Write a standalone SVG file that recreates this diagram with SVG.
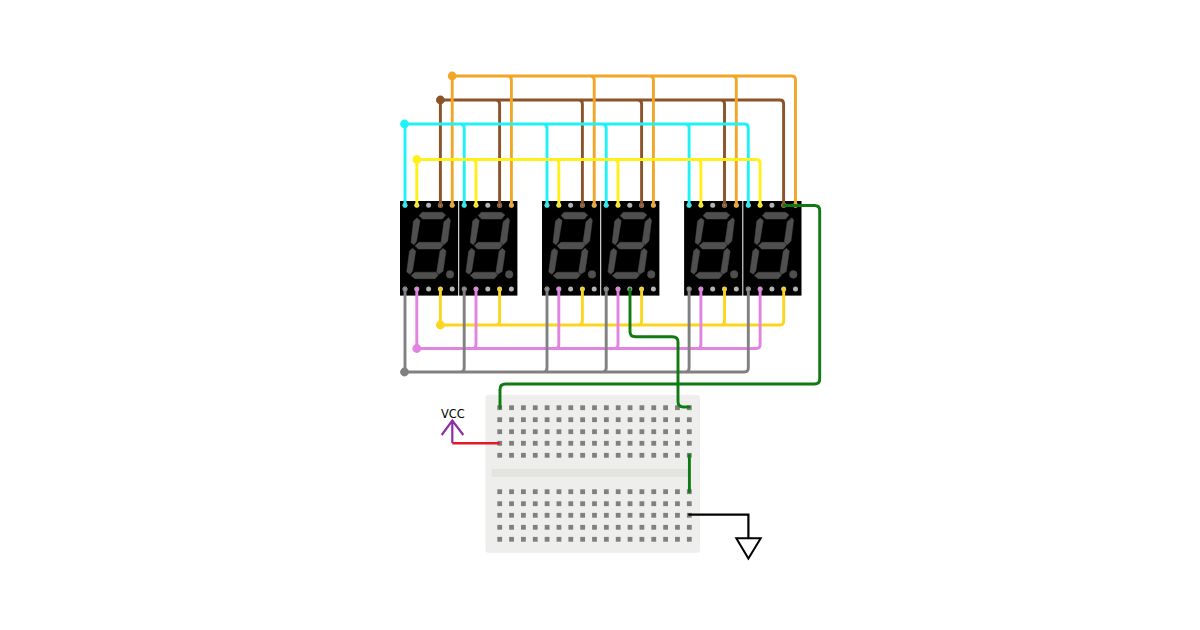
<svg xmlns="http://www.w3.org/2000/svg" width="1200" height="630" viewBox="0 0 1200 630">
<style>
.w{fill:none;stroke-width:2.9;stroke-linejoin:round;stroke-linecap:round}
.orange{stroke:#f2a628}.brown{stroke:#8c5228}.cyan{stroke:#1ff2f7}.yellow{stroke:#fff01a}
.gold{stroke:#fbd620}.violet{stroke:#e283e2}.grey{stroke:#808080}.green{stroke:#0f7a12}
.do{fill:#f2a628}.db{fill:#8c5228}.dc{fill:#1ff2f7}.dy{fill:#fff01a}.dg{fill:#fbd620}.dv{fill:#e283e2}.dk{fill:#808080}
.seg{fill:#4f4f4f;stroke:#4f4f4f;stroke-width:.5;stroke-linejoin:round}.pin{fill:#b3b3b3}.hole{fill:#808080}
</style>
<defs>
<g id="seven">
<rect width="58.2" height="94.6" fill="#000"/>
<path class="seg" d="M19 14.7L22 11.3H42.3L45.7 14L42.3 18H22.7Z"/>
<path class="seg" d="M15 44.7L19 41.3H40.7L43.3 44L40 48H18.3Z"/>
<path class="seg" d="M11 74.5L15 71.2H36L38.3 74L35 77.7H15Z"/>
<path class="seg" d="M17 17L20 19.5L16.5 40.5L14 43.8L11 41.5L13.5 20Z"/>
<path class="seg" d="M48.7 16.7L50.3 19.3L47.7 40L44 43.8L41 41.3L44 20.7Z"/>
<path class="seg" d="M12.5 47.3L15.7 50L12.5 70L10 73.3L6.7 71L9.5 50Z"/>
<path class="seg" d="M43 47.3L46 50L43 70.5L38.5 73.3L36.7 71L40 50Z"/>
<circle class="seg" cx="50" cy="73.4" r="3.8"/>
<g class="pin">
<circle cx="5" cy="4.3" r="2.5"/><circle cx="16.8" cy="4.3" r="2.5"/><circle cx="28.6" cy="4.3" r="2.5"/><circle cx="40.4" cy="4.3" r="2.5"/><circle cx="52.2" cy="4.3" r="2.5"/>
<circle cx="5" cy="88" r="2.5"/><circle cx="16.8" cy="88" r="2.5"/><circle cx="28.6" cy="88" r="2.5"/><circle cx="40.4" cy="88" r="2.5"/><circle cx="52.2" cy="88" r="2.5"/>
</g>
</g>
<g id="holes" class="hole">
<rect x="497.3" y="-2.4" width="4.8" height="4.8"/><rect x="509.15" y="-2.4" width="4.8" height="4.8"/><rect x="521" y="-2.4" width="4.8" height="4.8"/><rect x="532.85" y="-2.4" width="4.8" height="4.8"/><rect x="544.7" y="-2.4" width="4.8" height="4.8"/><rect x="556.55" y="-2.4" width="4.8" height="4.8"/><rect x="568.4" y="-2.4" width="4.8" height="4.8"/><rect x="580.25" y="-2.4" width="4.8" height="4.8"/><rect x="592.1" y="-2.4" width="4.8" height="4.8"/><rect x="603.95" y="-2.4" width="4.8" height="4.8"/><rect x="615.8" y="-2.4" width="4.8" height="4.8"/><rect x="627.65" y="-2.4" width="4.8" height="4.8"/><rect x="639.5" y="-2.4" width="4.8" height="4.8"/><rect x="651.35" y="-2.4" width="4.8" height="4.8"/><rect x="663.2" y="-2.4" width="4.8" height="4.8"/><rect x="675.05" y="-2.4" width="4.8" height="4.8"/><rect x="686.9" y="-2.4" width="4.8" height="4.8"/>
</g>
<g id="top-ends">
<circle class="dc" cx="5" cy="4.3" r="2.3"/><circle class="dy" cx="16.8" cy="4.3" r="2.3"/><circle class="db" cx="40.4" cy="4.3" r="2.3"/><circle class="do" cx="52.2" cy="4.3" r="2.3"/>
<circle class="pin" cx="5" cy="4.3" r="1" opacity=".5"/><circle class="pin" cx="16.8" cy="4.3" r="1" opacity=".5"/><circle class="pin" cx="40.4" cy="4.3" r="1" opacity=".5"/><circle class="pin" cx="52.2" cy="4.3" r="1" opacity=".5"/>
</g>
<g id="bottom-ends">
<circle class="dk" cx="5" cy="88" r="2.3"/><circle class="dv" cx="16.8" cy="88" r="2.3"/><circle class="dg" cx="40.4" cy="88" r="2.3"/>
<circle class="pin" cx="5" cy="88" r="1" opacity=".5"/><circle class="pin" cx="16.8" cy="88" r="1" opacity=".5"/><circle class="pin" cx="40.4" cy="88" r="1" opacity=".5"/>
</g>
</defs>
<rect width="1200" height="630" fill="#fff"/>
<g id="breadboard">
<rect x="485.5" y="395" width="214.5" height="157.8" rx="2.5" fill="#eeeeec"/>
<rect x="491.5" y="469" width="197" height="8" rx="1" fill="#e3e3e0"/>
<use href="#holes" y="407.7"/><use href="#holes" y="419.7"/><use href="#holes" y="431.7"/><use href="#holes" y="443.3"/><use href="#holes" y="455.3"/>
<use href="#holes" y="491.7"/><use href="#holes" y="503.7"/><use href="#holes" y="515.3"/><use href="#holes" y="527.3"/><use href="#holes" y="539.3"/>
</g>
<g id="display1"><use href="#seven" x="400" y="201"/></g>
<g id="display2"><use href="#seven" x="459.2" y="201"/></g>
<g id="display3"><use href="#seven" x="542" y="201"/></g>
<g id="display4"><use href="#seven" x="601.2" y="201"/></g>
<g id="display5"><use href="#seven" x="684.1" y="201"/></g>
<g id="display6"><use href="#seven" x="743.3" y="201"/></g>
<g id="vcc">
<text x="441" y="418.2" font-family="'DejaVu Sans',sans-serif" font-size="11.4" fill="#000">VCC</text>
<path d="M441.7 435L452.3 420.7L463.3 435M452.3 420.7V443" fill="none" stroke="#8e2fa6" stroke-width="2.2"/>
</g>
<g id="gnd">
<path d="M736.3 538.3H760.7L748.4 558.6Z" fill="#fff" stroke="#000" stroke-width="2"/>
</g>
<g id="connectors">
<path class="w brown" d="M440.4 205.3V100H780Q783.6 100 783.6 104V205.3M496 100Q499.6 100 499.6 104V205.3M579 100Q582.4 100 582.4 104V205.3M638 100Q641.6 100 641.6 104V205.3M721 100Q724.5 100 724.5 104V205.3"/>
<path class="w orange" d="M452.2 205.3V76H791.5Q795.5 76 795.5 80V205.3M508 76Q511.4 76 511.4 80V205.3M590.5 76Q594.2 76 594.2 80V205.3M650 76Q653.4 76 653.4 80V205.3M733 76Q736.3 76 736.3 80V205.3"/>
<path class="w cyan" d="M405 205.3V124H744.5Q748.3 124 748.3 128V205.3M460.5 124Q464.2 124 464.2 128V205.3M543.5 124Q547 124 547 128V205.3M602.5 124Q606.2 124 606.2 128V205.3M685.5 124Q689.1 124 689.1 128V205.3"/>
<path class="w yellow" d="M416.8 205.3V159.5H756.5Q760.1 159.5 760.1 163.5V205.3M472.5 159.5Q476 159.5 476 163.5V205.3M555.5 159.5Q558.8 159.5 558.8 163.5V205.3M614.5 159.5Q618 159.5 618 163.5V205.3M697.5 159.5Q700.9 159.5 700.9 163.5V205.3"/>
<path class="w gold" d="M440.4 289V325H780Q783.7 325 783.7 321V289M496 325Q499.6 325 499.6 321V289M579 325Q582.4 325 582.4 321V289M638 325Q641.6 325 641.6 321V289M721 325Q724.5 325 724.5 321V289"/>
<path class="w violet" d="M416.8 289V348.5H756.5Q760.1 348.5 760.1 344.5V289M472.5 348.5Q476 348.5 476 344.5V289M555.5 348.5Q558.8 348.5 558.8 344.5V289M614.5 348.5Q618 348.5 618 344.5V289M697.5 348.5Q700.9 348.5 700.9 344.5V289"/>
<path class="w grey" d="M405 289V372H744.5Q748.3 372 748.3 368V289M460.5 372Q464.2 372 464.2 368V289M543.5 372Q547 372 547 368V289M602.5 372Q606.2 372 606.2 368V289M685.5 372Q689.1 372 689.1 368V289"/>
<use href="#top-ends" x="400" y="201"/><use href="#top-ends" x="459.2" y="201"/><use href="#top-ends" x="542" y="201"/><use href="#top-ends" x="601.2" y="201"/><use href="#top-ends" x="684.1" y="201"/><use href="#top-ends" x="743.3" y="201"/>
<use href="#bottom-ends" x="400" y="201"/><use href="#bottom-ends" x="459.2" y="201"/><use href="#bottom-ends" x="542" y="201"/><use href="#bottom-ends" x="601.2" y="201"/><use href="#bottom-ends" x="684.1" y="201"/><use href="#bottom-ends" x="743.3" y="201"/>
<circle class="do" cx="452.2" cy="76" r="4.4"/><circle class="db" cx="440.4" cy="100" r="4.4"/><circle class="dc" cx="404.5" cy="124" r="4.4"/><circle class="dy" cx="416.8" cy="159.5" r="4.4"/>
<circle class="dg" cx="440.4" cy="325" r="4.4"/><circle class="dv" cx="416.8" cy="348.5" r="4.4"/><circle class="dk" cx="404.5" cy="372" r="4.4"/>
<path class="w green" d="M630 289V331.5Q630 336.8 635.5 336.8H672.5Q678 336.8 678 342V401.5Q678 407 683.5 407H689.3"/>
<path class="w green" d="M784 205.5H814.5Q819.7 205.5 819.7 210.5V379Q819.7 384 814.5 384H505.5Q500 384 500 389.5V407.7"/>
<path class="w green" d="M689.4 455.3V491.7"/>
<path d="M452.3 443.2H499.7" fill="none" stroke="#e01a2a" stroke-width="2.4"/>
<path d="M688.3 514.6H748.4V538" fill="none" stroke="#000" stroke-width="2.2"/>
</g>
</svg>
